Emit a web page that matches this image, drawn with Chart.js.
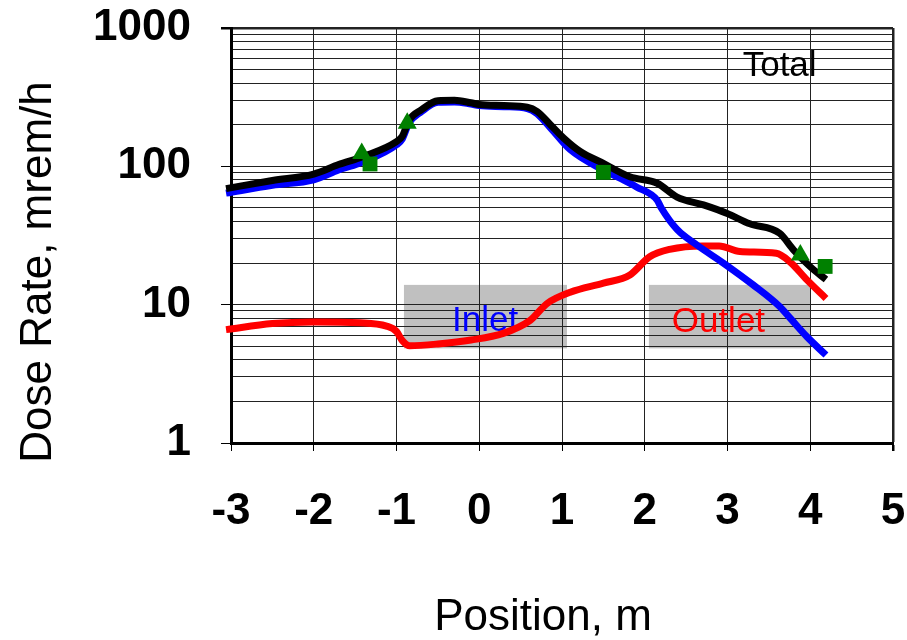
<!DOCTYPE html>
<html>
<head>
<meta charset="utf-8">
<title>Dose Rate vs Position</title>
<script src="https://cdn.jsdelivr.net/npm/chart.js@4.4.0/dist/chart.umd.min.js"></script>
<style>
  html, body { margin: 0; padding: 0; background: #fff; }
  #wrap { width: 907px; height: 640px; position: relative; }
</style>
</head>
<body>
<div id="wrap"><canvas id="doseChart"></canvas></div>
<script>
// Total dose rate (black)
const totalX = [-3.06, -2.5, -2.0, -1.7, -1.4, -1.0, -0.93, -0.85, -0.7, -0.5, -0.3, -0.1, 0.0, 0.3, 0.58, 0.7, 0.86, 1.02, 1.22, 1.5, 1.82, 2.15, 2.39, 2.71, 2.99, 3.27, 3.63, 3.8, 4.0, 4.19];
const totalY = [69, 79, 88, 103, 118, 151, 165, 215, 256, 298, 300, 288, 280, 275, 268, 249, 200, 160, 128, 105, 84, 75.5, 60, 52.6, 45.8, 38.4, 32.8, 24.8, 18.8, 15.2];

// Inlet contribution (blue)
const inletX = [-3.06, -2.5, -2.0, -1.7, -1.4, -1.0, -0.93, -0.85, -0.7, -0.5, -0.3, -0.1, 0.0, 0.3, 0.58, 0.7, 0.86, 1.1, 1.5, 1.7, 1.9, 2.15, 2.2, 2.39, 2.63, 2.95, 3.31, 3.63, 3.76, 3.96, 4.19];
const inletY = [64, 73, 80, 94, 108, 143, 158, 205, 248, 290, 292, 282, 275, 270, 262, 240, 190, 132, 94, 82, 71, 57, 50, 35, 27, 20, 13.9, 9.7, 7.95, 5.86, 4.32];

// Outlet contribution (red)
const outletX = [-3.06, -2.5, -2.0, -1.44, -1.12, -1.0, -0.93, -0.84, -0.5, -0.1, 0.29, 0.615, 0.82, 1.1, 1.5, 1.82, 2.06, 2.3, 2.7, 2.9, 3.15, 3.59, 3.75, 3.96, 4.19];
const outletY = [6.6, 7.3, 7.5, 7.4, 7.0, 6.4, 5.5, 5.05, 5.2, 5.55, 6.2, 7.7, 10.2, 12.3, 14.3, 16.4, 22.2, 25.1, 26.6, 26.6, 24.2, 23.5, 20.5, 15.1, 11.1];

// measured points (green)
const triX = [-1.42, -0.87, 3.88];
const triY = [124, 205, 22.9];
const sqX = [-1.32, 1.50, 4.18];
const sqY = [104, 90.5, 18.9];

// axis ticks
const xTicks = [-3, -2, -1, 0, 1, 2, 3, 4, 5];
const yDecades = [1, 10, 100, 1000];

// shaded regions: [xFrom, xTo, yLow, yHigh]
const inletBox = [-0.91, 1.06, 4.83, 13.9];
const outletBox = [2.05, 4.0, 4.83, 13.9];

// text labels inside the plot
const noteText = ['Inlet', 'Outlet', 'Total'];
const noteX = [0.07, 2.89, 3.63];
const noteY = [6.44, 6.38, 447];
const noteColor = ['#0000FF', '#FF0000', '#000000'];

const FONT = '"Liberation Sans", Arial, Helvetica, sans-serif';

const pts = (xs, ys) => xs.map((x, i) => ({ x: x, y: ys[i] }));

const yTickValues = [];
yDecades.slice(0, -1).forEach(d => {
    for (let k = 1; k <= 9; k++) yTickValues.push(d * k);
});
yTickValues.push(yDecades[yDecades.length - 1]);

const regionsPlugin = {
    id: 'regions',
    beforeDraw(chart) {
        const { ctx, scales: { x, y } } = chart;
        ctx.save();
        ctx.fillStyle = '#C0C0C0';
        [inletBox, outletBox].forEach(b => {
            const x0 = x.getPixelForValue(b[0]);
            const x1 = x.getPixelForValue(b[1]);
            const y0 = y.getPixelForValue(b[3]);
            const y1 = y.getPixelForValue(b[2]);
            ctx.fillRect(x0, y0, x1 - x0, y1 - y0);
        });
        ctx.restore();
    },
    beforeDatasetsDraw(chart) {
        const { ctx, scales: { x, y } } = chart;
        ctx.save();
        ctx.font = '35px ' + FONT;
        ctx.textAlign = 'center';
        ctx.textBaseline = 'alphabetic';
        noteText.forEach((t, i) => {
            ctx.fillStyle = noteColor[i];
            ctx.fillText(t, x.getPixelForValue(noteX[i]), y.getPixelForValue(noteY[i]));
        });
        ctx.restore();
    },
    afterDraw(chart) {
        const ctx = chart.ctx;
        ctx.save();
        ctx.fillStyle = '#000';
        ctx.font = '44px ' + FONT;
        ctx.textAlign = 'center';
        ctx.textBaseline = 'alphabetic';
        ctx.fillText('Position, m', 543, 630);
        ctx.translate(51, 272);
        ctx.rotate(-Math.PI / 2);
        ctx.fillText('Dose Rate, mrem/h', 0, 0);
        ctx.restore();
    }
};

const lineStyle = {
    borderWidth: 7,
    pointRadius: 0,
    fill: false,
    cubicInterpolationMode: 'monotone',
    clip: false
};

// keep label overflow from shrinking the plot area
const noPad = s => {
    s.paddingTop = 0;
    s.paddingBottom = 0;
    s.paddingLeft = 0;
    s.paddingRight = 0;
};

new Chart(document.getElementById('doseChart').getContext('2d'), {
    type: 'line',
    data: {
        datasets: [
            {
                label: 'Measured (triangles)',
                data: pts(triX, triY),
                showLine: false,
                pointStyle: 'triangle',
                pointRadius: 11,
                backgroundColor: '#008000',
                borderColor: '#008000',
                borderWidth: 0
            },
            {
                label: 'Measured (squares)',
                data: pts(sqX, sqY),
                showLine: false,
                pointStyle: 'rect',
                pointRadius: 10.5,
                backgroundColor: '#008000',
                borderColor: '#008000',
                borderWidth: 0
            },
            Object.assign({ label: 'Total', data: pts(totalX, totalY), borderColor: '#000000' }, lineStyle),
            Object.assign({ label: 'Inlet', data: pts(inletX, inletY), borderColor: '#0000FF' }, lineStyle),
            Object.assign({ label: 'Outlet', data: pts(outletX, outletY), borderColor: '#FF0000' }, lineStyle)
        ]
    },
    options: {
        responsive: true,
        maintainAspectRatio: false,
        animation: false,
        layout: { padding: { top: 28, right: 14, left: 0, bottom: 0 } },
        plugins: {
            legend: { display: false },
            tooltip: { enabled: false }
        },
        scales: {
            x: {
                type: 'linear',
                min: -3,
                max: 5,
                afterBuildTicks: s => { s.ticks = xTicks.map(v => ({ value: v })); },
                afterFit: s => { s.height = 197; noPad(s); },
                ticks: {
                    autoSkip: false,
                    maxRotation: 0,
                    padding: 34,
                    color: '#000',
                    font: { family: FONT, size: 44, weight: 'bold' }
                },
                grid: {
                    color: '#222',
                    lineWidth: c => (c.tick && c.tick.value === 5 ? 2.5 : 1),
                    tickLength: 8,
                    tickColor: '#000'
                },
                border: { color: '#000', width: 3 }
            },
            y: {
                type: 'logarithmic',
                min: 1,
                max: 1000,
                afterBuildTicks: s => { s.ticks = yTickValues.map(v => ({ value: v })); },
                afterFit: s => { s.width = 231; noPad(s); },
                ticks: {
                    autoSkip: false,
                    padding: 30,
                    color: '#000',
                    font: { family: FONT, size: 44, weight: 'bold' },
                    callback: v => (yDecades.includes(v) ? String(v) : '')
                },
                grid: {
                    color: '#222',
                    lineWidth: c => (c.tick && c.tick.value === 1000 ? 2.5 : 1),
                    tickLength: 10,
                    tickColor: c => (c.tick && yDecades.includes(c.tick.value) ? '#000' : 'rgba(0,0,0,0)')
                },
                border: { color: '#000', width: 3 }
            }
        }
    },
    plugins: [regionsPlugin]
});
</script>
</body>
</html>
